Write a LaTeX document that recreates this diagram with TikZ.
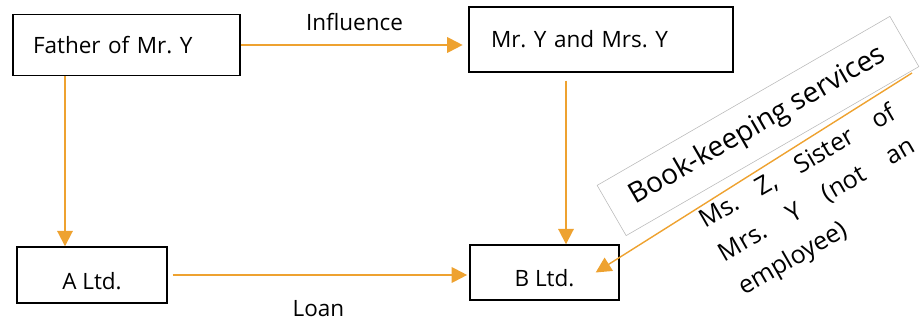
\documentclass[tikz,border=0pt]{standalone}
\usepackage{fontspec}
\setmainfont{Open Sans}
\usepackage{xcolor}
\usetikzlibrary{arrows.meta,positioning,calc}
\definecolor{linkorange}{RGB}{238,162,48}
\frenchspacing

\begin{document}
\begin{tikzpicture}[
    txt/.style={font=\fontsize{16}{19}\selectfont},
    box/.style={txt, draw, line width=1pt, text height=11.7pt, text depth=0pt},
    low/.style={text height=20.3pt},
    flow/.style={draw=linkorange, line width=1.4pt, -{Triangle[width=11pt,length=11pt]}},
    lbl/.style={txt, inner sep=0pt}
]
    \useasboundingbox (0,0) rectangle (23.05,8);

    \node[box, text width=4.675cm, inner xsep=0.5cm, minimum height=1.525cm, align=left] (father) at (3.1625,6.875) {Father of Mr. Y};
    \node[box, text width=5.5cm, inner xsep=0.55cm, minimum height=1.625cm, align=left] (mry) at (15.025,7.0125) {Mr. Y and Mrs. Y};
    \node[box, low, minimum width=3.75cm, minimum height=1.4cm] (altd) at (2.3,1.125) {A Ltd.};
    \node[box, low, minimum width=3.725cm, minimum height=1.375cm] (bltd) at (13.6125,1.1875) {B Ltd.};

    \draw[flow, shorten >=4pt] (father.east) -- (father.east -| mry.west)
        node[lbl, midway, above=9.5pt] (infl) {Influence};
    \draw[flow] ([xshift=-1.5375cm]father.south) -- ([xshift=-1.5375cm]father.south |- altd.north);
    \draw[flow, shorten <=0.2cm] ([xshift=-0.875cm]mry.south) -- ([xshift=-0.875cm]mry.south |- bltd.north);
    \draw[flow, shorten <=3.5pt, shorten >=1.5pt] (altd.east) -- (altd.east -| bltd.west)
        node[lbl, midway, below=17.5pt] (loan) {Loan};

    \node[draw=gray!55, line width=0.4pt, rotate=30, minimum width=8.45cm, minimum height=1.45cm, font=\fontsize{20}{24}\selectfont] (bkserv) at (18.95,4.85) {Book-keeping services};
    \node[rotate=30, text width=5.55cm, align=justify, inner sep=0pt, font=\fontsize{17.8}{27.4}\selectfont] (msz) at (20.44,2.975) {Ms. Z, Sister of\linebreak Mrs. Y (not an\linebreak employee)};

    \coordinate (zsrc) at (22.8,6.175);
    \draw[flow, line width=1pt] (zsrc) -- ([xshift=-0.6cm]bltd.east);
\end{tikzpicture}
\end{document}
